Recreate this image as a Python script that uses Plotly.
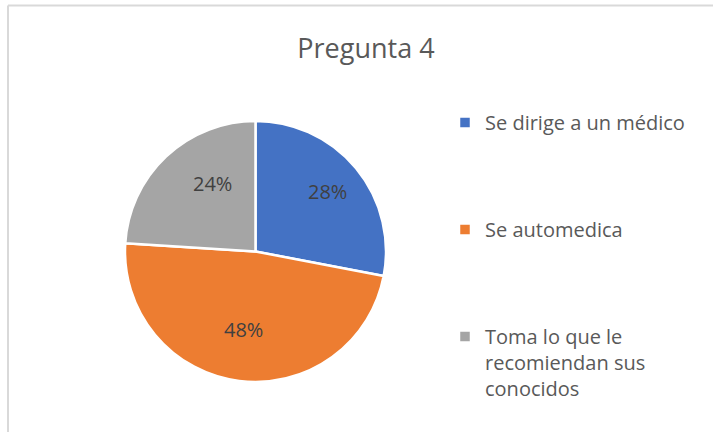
import math
import plotly.graph_objects as go

# ── Data ─────────────────────────────────────────────────────
labels = [
    "Se dirige a un médico",
    "Se automedica",
    "Toma lo que le<br>recomiendan sus<br>conocidos",
]
values = [28, 48, 24]
colors = ["#4472C4", "#ED7D31", "#A5A5A5"]

W, H = 713, 432

# pie placement in pixels
cx, cy, r = 255.5, 251.5, 130.5

# padding lines so the legend entries spread out like the original
pad = ["<br> <br> <br> ", "<br> <br> <br> ", ""]
legend_labels = [l + p for l, p in zip(labels, pad)]

fig = go.Figure()

fig.add_trace(go.Pie(
    labels=legend_labels,
    values=values,
    marker=dict(colors=colors, line=dict(color="white", width=2.5)),
    sort=False,
    direction="clockwise",
    rotation=0,
    textinfo="none",
    hoverinfo="none",
    domain=dict(x=[(cx - r) / W, (cx + r) / W],
                y=[1 - (cy + r) / H, 1 - (cy - r) / H]),
))

# ── Percentage labels, Excel-style (about 0.72 of the radius) ─
total = sum(values)
annotations = []
start = 0.0
for v in values:
    mid = (start + v / 2) / total * 2 * math.pi
    start += v
    px = cx + 0.72 * r * math.sin(mid)
    py = cy - 0.72 * r * math.cos(mid)
    annotations.append(dict(
        x=px / W, y=1 - py / H, xref="paper", yref="paper",
        text=f"{round(v / total * 100)}%", showarrow=False,
        font=dict(color="#404040", size=20, family="Open Sans"),
    ))

fig.update_layout(
    width=W, height=H,
    margin=dict(l=0, r=0, t=0, b=0),
    paper_bgcolor="white",
    font=dict(family="Open Sans", color="#595959"),
    title=dict(
        text="Pregunta 4",
        font=dict(size=27, color="#595959", family="Open Sans"),
        x=366 / W, xanchor="center",
        y=1 - 49 / H, yanchor="middle",
    ),
    showlegend=True,
    legend=dict(
        x=445 / W, xanchor="left",
        y=1 - 103 / H, yanchor="top",
        valign="top",
        font=dict(size=20, color="#595959", family="Open Sans"),
        bgcolor="rgba(0,0,0,0)",
    ),
    annotations=annotations,
    shapes=[
        # chart frame (only the left and top edges show in the original)
        dict(type="line", xref="paper", yref="paper",
             x0=8 / W, x1=1, y0=1 - 5.5 / H, y1=1 - 5.5 / H,
             line=dict(color="#D9D9D9", width=2)),
        dict(type="line", xref="paper", yref="paper",
             x0=8 / W, x1=8 / W, y0=0, y1=1 - 5.5 / H,
             line=dict(color="#D9D9D9", width=2)),
    ],
)

fig.write_html("out.html", config={"displayModeBar": False},
               post_script="document.body.style.margin='0';")
